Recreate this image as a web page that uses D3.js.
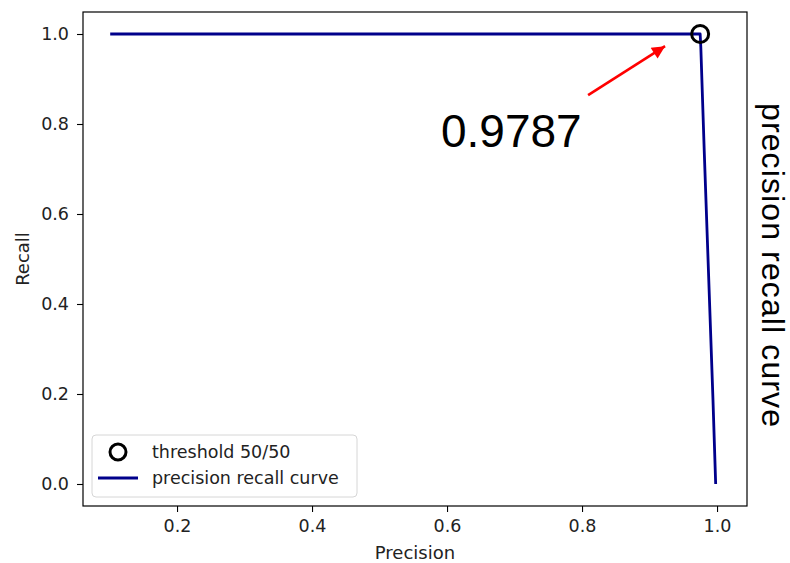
<!DOCTYPE html>
<html lang="en">
<head>
    <meta charset="utf-8">
    <script src="https://d3js.org/d3.v7.min.js"></script>
    <style>
        body { margin: 0; background: #fff; }
        text { font-family: "DejaVu Sans", sans-serif; }
    </style>
</head>
<body>
    <div id="chart"></div>
    <script>
        // curve values
        const precision = [0.101, 0.975, 0.976, 0.981, 0.994, 0.998];
        const recall = [1.0, 1.0, 0.97, 0.742, 0.187, 0.0];
        const seuilPrecision = [0.975];
        const seuilRecall = [1.0];
        const xTicks = [0.2, 0.4, 0.6, 0.8, 1.0];
        const yTicks = [0.0, 0.2, 0.4, 0.6, 0.8, 1.0];
        const legende = ['threshold 50/50', 'precision recall curve'];
        const annotation = { texte: '0.9787', depart: [0.809, 0.864], pointe: [0.923, 0.973], pos: [0.591, 0.749] };
        const titreDroite = 'precision recall curve';

        const largeur = 790, hauteur = 563;
        const cadre = { gauche: 83, droite: 747, haut: 12, bas: 506 };
        const bleu = '#00008b';

        const svg = d3.select('#chart').append('svg')
            .attr('width', largeur)
            .attr('height', hauteur);

        const x = d3.scaleLinear().domain([0.0607, 1.0444]).range([cadre.gauche, cadre.droite]);
        const y = d3.scaleLinear().domain([-0.0489, 1.0489]).range([cadre.bas, cadre.haut]);

        // axes
        const axeX = svg.append('g')
            .attr('transform', `translate(0,${cadre.bas})`)
            .call(d3.axisBottom(x).tickValues(xTicks).tickFormat(d3.format('.1f')).tickSize(6).tickPadding(8));
        const axeY = svg.append('g')
            .attr('transform', `translate(${cadre.gauche},0)`)
            .call(d3.axisLeft(y).tickValues(yTicks).tickFormat(d3.format('.1f')).tickSize(6).tickPadding(8));
        [axeX, axeY].forEach(a => {
            a.select('.domain').remove();
            a.selectAll('line').attr('stroke', '#000').attr('stroke-width', 1.1);
            a.selectAll('text').attr('fill', '#222').style('font-size', '17.5px').style('font-family', '"DejaVu Sans", sans-serif');
        });

        // courbe
        const ligne = d3.line().x(i => x(precision[i])).y(i => y(recall[i]));
        svg.append('path')
            .attr('d', ligne(d3.range(precision.length)))
            .attr('fill', 'none')
            .attr('stroke', bleu)
            .attr('stroke-width', 2.8)
            .attr('stroke-linejoin', 'round');

        // point seuil
        svg.selectAll('.seuil')
            .data(seuilPrecision)
            .enter().append('circle')
            .attr('class', 'seuil')
            .attr('cx', (d, i) => x(d))
            .attr('cy', (d, i) => y(seuilRecall[i]))
            .attr('r', 8.5)
            .attr('fill', 'none')
            .attr('stroke', '#000')
            .attr('stroke-width', 3);

        // cadre
        svg.append('rect')
            .attr('x', cadre.gauche)
            .attr('y', cadre.haut)
            .attr('width', cadre.droite - cadre.gauche)
            .attr('height', cadre.bas - cadre.haut)
            .attr('fill', 'none')
            .attr('stroke', '#000')
            .attr('stroke-width', 1.2);

        // titres des axes
        svg.append('text')
            .attr('x', (cadre.gauche + cadre.droite) / 2)
            .attr('y', 559)
            .attr('text-anchor', 'middle')
            .style('font-size', '18px')
            .attr('fill', '#222')
            .text('Precision');
        svg.append('text')
            .attr('transform', `translate(29,${(cadre.haut + cadre.bas) / 2}) rotate(-90)`)
            .attr('text-anchor', 'middle')
            .style('font-size', '18px')
            .attr('fill', '#222')
            .text('Recall');

        // fleche rouge
        const defs = svg.append('defs');
        defs.append('marker')
            .attr('id', 'pointe')
            .attr('viewBox', '0 0 10 10')
            .attr('refX', 10).attr('refY', 5)
            .attr('markerWidth', 6.5).attr('markerHeight', 5)
            .attr('markerUnits', 'strokeWidth')
            .attr('orient', 'auto')
            .append('path')
            .attr('d', 'M0,0 L10,5 L0,10 Z')
            .attr('fill', '#ff0000');
        svg.append('line')
            .attr('x1', x(annotation.depart[0]))
            .attr('y1', y(annotation.depart[1]))
            .attr('x2', x(annotation.pointe[0]))
            .attr('y2', y(annotation.pointe[1]))
            .attr('stroke', '#ff0000')
            .attr('stroke-width', 2.6)
            .attr('marker-end', 'url(#pointe)');
        svg.append('text')
            .attr('x', x(annotation.pos[0]))
            .attr('y', y(annotation.pos[1]))
            .style('font-family', '"Liberation Sans", Arial, sans-serif')
            .style('font-size', '46px')
            .attr('fill', '#000')
            .text(annotation.texte);

        // legende
        const leg = svg.append('g').attr('transform', 'translate(92,435)');
        leg.append('rect')
            .attr('width', 265)
            .attr('height', 62)
            .attr('rx', 4)
            .attr('fill', '#fff')
            .attr('fill-opacity', 0.8)
            .attr('stroke', '#d6d6d6')
            .attr('stroke-width', 1);
        leg.append('circle')
            .attr('cx', 26).attr('cy', 17)
            .attr('r', 8)
            .attr('fill', 'none')
            .attr('stroke', '#000')
            .attr('stroke-width', 3);
        leg.append('line')
            .attr('x1', 6).attr('x2', 46)
            .attr('y1', 43).attr('y2', 43)
            .attr('stroke', bleu)
            .attr('stroke-width', 2.8);
        leg.selectAll('.item')
            .data(legende)
            .enter().append('text')
            .attr('class', 'item')
            .attr('x', 60)
            .attr('y', (d, i) => 17 + i * 26)
            .attr('dy', '0.36em')
            .style('font-size', '17.5px')
            .attr('fill', '#222')
            .text(d => d);

        // titre a droite
        svg.append('text')
            .attr('transform', 'translate(762,103) rotate(90)')
            .style('font-family', '"Liberation Sans", Arial, sans-serif')
            .style('font-size', '32px')
            .attr('textLength', 324)
            .attr('lengthAdjust', 'spacing')
            .attr('fill', '#000')
            .text(titreDroite);
    </script>
</body>
</html>
